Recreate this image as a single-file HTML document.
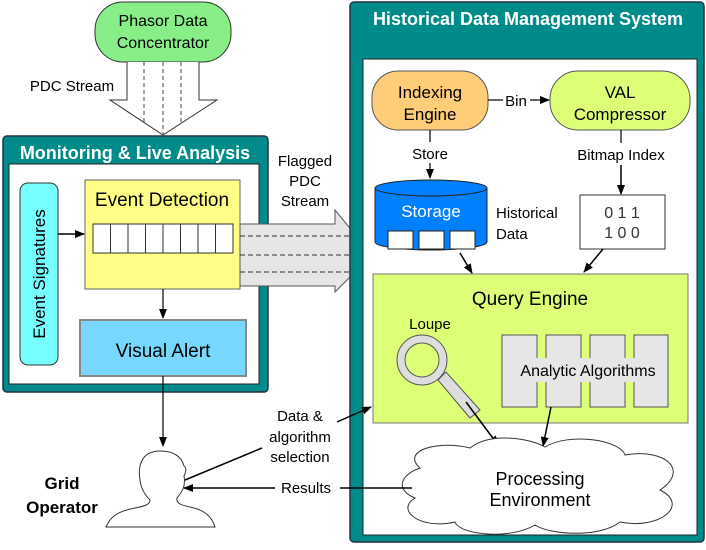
<!DOCTYPE html>
<html><head><style>
body{margin:0;background:#fff}
svg text{font-family:"Liberation Sans",sans-serif}
</style></head><body>
<svg width="706" height="545" viewBox="0 0 706 545" xmlns="http://www.w3.org/2000/svg">
<defs>
<marker id="ah" markerWidth="10" markerHeight="10" refX="9" refY="5" orient="auto" markerUnits="userSpaceOnUse">
<path d="M0,1 L10,5 L0,9 z" fill="#000"/></marker>
</defs>
<!-- PDC -->
<rect x="95" y="2" width="136" height="60" rx="28" fill="#88ee88" stroke="#333" stroke-width="1"/>
<text x="163" y="26" font-size="16" text-anchor="middle">Phasor Data</text>
<text x="163" y="48" font-size="16" text-anchor="middle">Concentrator</text>
<path d="M127,62 L127,100 L110,100 L163,135 L217,100 L199,100 L199,62" fill="#fff" stroke="#333"/>
<g stroke="#444" stroke-dasharray="4,3"><line x1="144" y1="62" x2="144" y2="122"/><line x1="163" y1="62" x2="163" y2="134"/><line x1="181" y1="62" x2="181" y2="122"/></g>
<text x="72" y="91" font-size="15" text-anchor="middle">PDC Stream</text>
<!-- Monitoring -->
<rect x="3" y="136" width="265" height="256" rx="4" fill="#008b8b" stroke="#234" stroke-width="1.5"/>
<text x="135" y="159" font-size="18" font-weight="bold" fill="#fff" text-anchor="middle">Monitoring &amp; Live Analysis</text>
<rect x="9" y="164" width="250" height="220" fill="#fff" stroke="#222"/>
<rect x="20" y="183" width="38" height="182" rx="8" fill="#77ffff" stroke="#333"/>
<text transform="translate(45,274) rotate(-90)" font-size="17" text-anchor="middle">Event Signatures</text>
<rect x="85" y="180" width="155" height="109" fill="#ffff88" stroke="#666"/>
<text x="162" y="206" font-size="19" text-anchor="middle">Event Detection</text>
<rect x="93" y="224" width="140" height="29" fill="#fff" stroke="#333"/>
<g stroke="#333"><line x1="110.5" y1="224" x2="110.5" y2="253"/><line x1="128" y1="224" x2="128" y2="253"/><line x1="145.5" y1="224" x2="145.5" y2="253"/><line x1="163" y1="224" x2="163" y2="253"/><line x1="180.5" y1="224" x2="180.5" y2="253"/><line x1="198" y1="224" x2="198" y2="253"/><line x1="215.5" y1="224" x2="215.5" y2="253"/></g>
<line x1="58" y1="234" x2="84" y2="234" stroke="#000" stroke-width="1.5" marker-end="url(#ah)"/>
<line x1="163" y1="289" x2="163" y2="318" stroke="#000" stroke-width="1.2" marker-end="url(#ah)"/>
<rect x="80" y="320" width="166" height="56" fill="#77d7ff" stroke="#888" stroke-width="2"/>
<text x="163" y="357" font-size="19" text-anchor="middle">Visual Alert</text>
<line x1="163" y1="376" x2="163" y2="446" stroke="#000" stroke-width="1.2" marker-end="url(#ah)"/>
<!-- flagged arrow -->
<path d="M240,224 L335,224 L335,210 L372,255 L335,292 L335,286 L240,286 z" fill="#e6e6e6" stroke="#555"/>
<g stroke="#333" stroke-dasharray="5,3"><line x1="240" y1="236" x2="350" y2="236"/><line x1="240" y1="255" x2="370" y2="255"/><line x1="240" y1="272" x2="355" y2="272"/></g>
<text x="305" y="166" font-size="15" text-anchor="middle">Flagged</text>
<text x="305" y="186" font-size="15" text-anchor="middle">PDC</text>
<text x="305" y="206" font-size="15" text-anchor="middle">Stream</text>
<!-- Historical -->
<rect x="350" y="2" width="354" height="540" rx="4" fill="#008b8b" stroke="#234" stroke-width="1.5"/>
<text x="528" y="25" font-size="18" font-weight="bold" fill="#fff" text-anchor="middle">Historical Data Management System</text>
<rect x="363" y="59" width="334" height="476" fill="#fff" stroke="#222"/>
<rect x="372" y="71" width="116" height="59" rx="26" fill="#ffcc77" stroke="#555"/>
<text x="430" y="98" font-size="17" text-anchor="middle">Indexing</text>
<text x="430" y="120" font-size="17" text-anchor="middle">Engine</text>
<rect x="550" y="71" width="140" height="59" rx="28" fill="#ddff77" stroke="#555"/>
<text x="620" y="98" font-size="17" text-anchor="middle">VAL</text>
<text x="620" y="120" font-size="17" text-anchor="middle">Compressor</text>
<line x1="488" y1="100" x2="503" y2="100" stroke="#000" stroke-width="1.2"/>
<text x="516" y="106" font-size="15" text-anchor="middle">Bin</text>
<line x1="530" y1="100" x2="549" y2="100" stroke="#000" stroke-width="1.2" marker-end="url(#ah)"/>
<line x1="430" y1="130" x2="430" y2="142" stroke="#000" stroke-width="1.2"/>
<text x="430" y="159" font-size="15" text-anchor="middle">Store</text>
<line x1="430" y1="163" x2="430" y2="178" stroke="#000" stroke-width="1.2" marker-end="url(#ah)"/>
<line x1="621" y1="130" x2="621" y2="143" stroke="#000" stroke-width="1.2"/>
<text x="621" y="160" font-size="15" text-anchor="middle">Bitmap Index</text>
<line x1="621" y1="165" x2="621" y2="194" stroke="#000" stroke-width="1.5" marker-end="url(#ah)"/>
<!-- storage cylinder -->
<path d="M375,188 L375,242 A56,8 0 0 0 487,242 L487,188" fill="#0080ff" stroke="#222"/>
<ellipse cx="431" cy="188" rx="56" ry="8" fill="#0080ff" stroke="#222"/>
<text x="431" y="217" font-size="17" fill="#fff" text-anchor="middle">Storage</text>
<rect x="388" y="231" width="25" height="18" fill="#fff" stroke="#222"/>
<rect x="419" y="231" width="25" height="18" fill="#fff" stroke="#222"/>
<rect x="450" y="231" width="25" height="18" fill="#fff" stroke="#222"/>
<text x="496" y="218" font-size="15">Historical</text>
<text x="496" y="239" font-size="15">Data</text>
<rect x="580" y="195" width="85" height="54" fill="#fff" stroke="#333"/>
<text x="622" y="218" font-size="16" font-family="Liberation Mono" text-anchor="middle" fill="#333">0 1 1</text>
<text x="622" y="238" font-size="16" font-family="Liberation Mono" text-anchor="middle" fill="#333">1 0 0</text>
<line x1="460" y1="253" x2="472" y2="273" stroke="#000" stroke-width="1.5" marker-end="url(#ah)"/>
<line x1="603" y1="249" x2="584" y2="272" stroke="#000" stroke-width="1.5" marker-end="url(#ah)"/>
<!-- Query engine -->
<rect x="373" y="274" width="315" height="149" fill="#ddff77" stroke="#777"/>
<text x="530" y="305" font-size="19" text-anchor="middle">Query Engine</text>
<text x="430" y="329" font-size="15" text-anchor="middle">Loupe</text>
<g fill="#e6e6e6" stroke="#555">
<rect x="502" y="335" width="35" height="72"/><rect x="546" y="335" width="35" height="72"/><rect x="590" y="335" width="35" height="72"/><rect x="634" y="335" width="34" height="72"/>
</g>
<rect x="504" y="358" width="162" height="24" fill="#e6e6e6"/>
<text x="588" y="376" font-size="16" text-anchor="middle">Analytic Algorithms</text>
<path d="M438,380 L470,418 L480,410 L446,372 z" fill="#ddd" stroke="#555"/>
<circle cx="422" cy="360" r="25" fill="#ddd" stroke="#555"/>
<circle cx="422" cy="360" r="17" fill="#ddff77" stroke="#555"/>
<line x1="466" y1="402" x2="498" y2="445" stroke="#000" stroke-width="1.5" marker-end="url(#ah)"/>
<line x1="551" y1="407" x2="543" y2="446" stroke="#000" stroke-width="1.5" marker-end="url(#ah)"/>
<!-- cloud -->
<path d="M420,468 C400,450 440,440 470,448 C490,432 530,438 545,447 C570,432 620,440 625,455 C665,448 690,470 660,490 C690,505 660,530 620,522 C600,538 550,535 535,525 C510,540 460,535 455,522 C420,530 395,510 415,498 C395,490 400,475 420,468 z" fill="#fff" stroke="#333"/>
<text x="540" y="485" font-size="18" text-anchor="middle">Processing</text>
<text x="540" y="506" font-size="18" text-anchor="middle">Environment</text>
<line x1="412" y1="488" x2="340" y2="488" stroke="#000" stroke-width="1.5"/>
<text x="306" y="493" font-size="15" text-anchor="middle">Results</text>
<line x1="275" y1="488" x2="184" y2="488" stroke="#000" stroke-width="1.5" marker-end="url(#ah)"/>
<text x="300" y="421" font-size="15" text-anchor="middle">Data &amp;</text>
<text x="300" y="442" font-size="15" text-anchor="middle">algorithm</text>
<text x="300" y="462" font-size="15" text-anchor="middle">selection</text>
<line x1="185" y1="480" x2="262" y2="448" stroke="#000" stroke-width="1.5"/>
<line x1="337" y1="422" x2="371" y2="407" stroke="#000" stroke-width="1.5" marker-end="url(#ah)"/>
<!-- person -->
<path d="M160,451 C140,451 138,468 140,480 C141,490 146,496 150,500 C150,504 146,506 135,508 C115,512 110,518 106,527 L215,527 C212,517 205,510 190,507 C180,505 176,503 177,498 C182,492 186,486 184,476 C186,472 187,468 184,466 C181,455 172,451 160,451 z" fill="#fff" stroke="#333"/>
<text x="62" y="489" font-size="17" font-weight="bold" text-anchor="middle">Grid</text>
<text x="62" y="513" font-size="17" font-weight="bold" text-anchor="middle">Operator</text>
</svg>
</body></html>
